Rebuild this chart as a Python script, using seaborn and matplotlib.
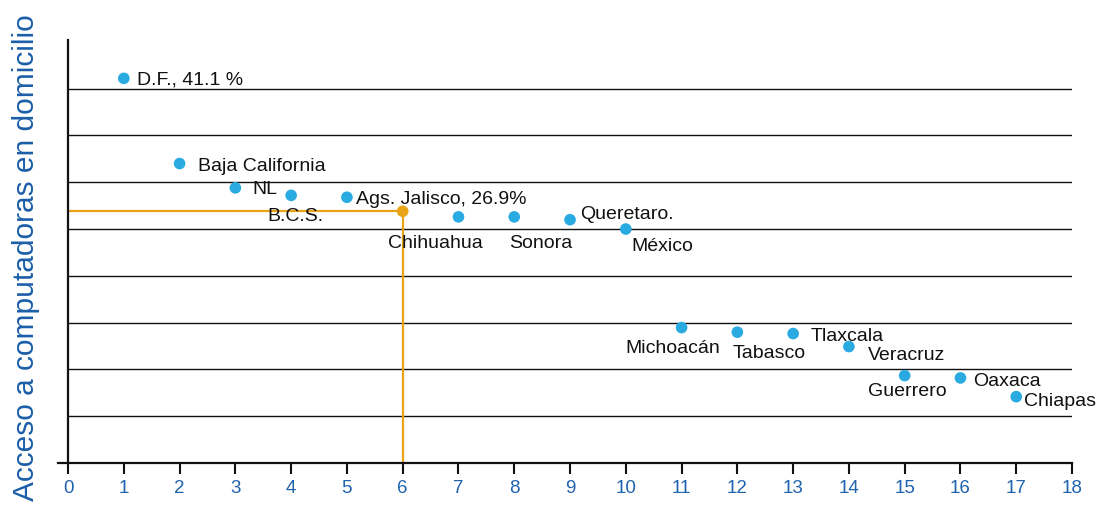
import matplotlib
matplotlib.use("Agg")
import matplotlib.pyplot as plt
import seaborn as sns
import pandas as pd

# ---- data ----
estados = ["D.F., 41.1 %", "Baja California", "NL", "B.C.S.", "Ags. Jalisco, 26.9%",
           "Chihuahua", "Sonora", "Queretaro.", "México", "Michoacán", "Tabasco",
           "Tlaxcala", "Veracruz", "Guerrero", "Oaxaca", "Chiapas"]
rango = [1, 2, 3, 4, 5, 7, 8, 9, 10, 11, 12, 13, 14, 15, 16, 17]
acceso = [41.1, 32.0, 29.4, 28.6, 28.4, 26.3, 26.3, 26.0, 25.0,
          14.47, 13.98, 13.83, 12.44, 9.34, 9.09, 7.09]
jalisco_rango = [6]
jalisco_acceso = [26.9]
x_ticks = list(range(0, 19))
grid_levels = [5, 10, 15, 20, 25, 30, 35, 40]
ylabel = "Acceso a computadoras en domicilio"

# label offsets in pixels (dx right, dy down to baseline)
label_offsets = [(13.6, 6.6), (18, 7), (16.7, 6.3), (-23.4, 25.4), (9.4, 7),
                 (-70, 31.3), (-5, 31.3), (10, -1), (6, 22), (-55.7, 25.6),
                 (-4.4, 26), (18, 7.3), (19.3, 13.3), (-36.3, 20.3), (12.3, 8),
                 (8, 9.3)]

BLUE = "#29abe2"
ORANGE = "#e8a317"
TICKBLUE = "#1f63ad"
LABELBLUE = "#1b5ea8"

sns.set_theme(style="white")
plt.rcParams["font.family"] = ["Liberation Sans", "DejaVu Sans"]

fig = plt.figure(figsize=(10.98, 5.08), dpi=100)
ax = fig.add_axes([58 / 1098, 45 / 508, (1072 - 58) / 1098, (468 - 45) / 508])

df = pd.DataFrame({"rango": rango + jalisco_rango,
                   "acceso": acceso + jalisco_acceso,
                   "tipo": ["otro"] * len(rango) + ["jalisco"]})

# grid lines
ax.hlines(grid_levels, 0, 18, colors="#111111", linewidth=1.0, zorder=1)
# orange guide lines
ax.hlines(jalisco_acceso, 0, jalisco_rango, colors=ORANGE, linewidth=1.6, zorder=2)
ax.vlines(jalisco_rango, 0, jalisco_acceso, colors=ORANGE, linewidth=1.6, zorder=2)

sns.scatterplot(data=df, x="rango", y="acceso", hue="tipo",
                palette={"otro": BLUE, "jalisco": ORANGE},
                s=70, linewidth=0, legend=False, ax=ax, zorder=3, clip_on=False)

for name, xv, yv, (dx, dy) in zip(estados, rango, acceso, label_offsets):
    ax.annotate(name, (xv, yv), xytext=(dx * 0.72, -dy * 0.72),
                textcoords="offset points", ha="left", va="baseline",
                fontsize=14, color="#111111", annotation_clip=False, zorder=4)

ax.set_xlim(-0.18, 18)
ax.set_ylim(0, 45.2)
ax.set_xticks(x_ticks)
ax.set_xticklabels([str(t) for t in x_ticks])
ax.set_yticks([])
ax.set_xlabel("")
ax.set_ylabel("")
ax.tick_params(axis="x", which="both", bottom=True, length=8, width=1.5,
               color="#111111", labelsize=13.5, labelcolor=TICKBLUE, pad=4.5,
               direction="out")

for side in ["top", "right"]:
    ax.spines[side].set_visible(False)
ax.spines["left"].set_position(("data", 0))
for side in ["left", "bottom"]:
    ax.spines[side].set_color("#111111")
    ax.spines[side].set_linewidth(1.6)
ax.set_facecolor("white")

fig.text(12 / 1098, 1 - 14 / 508, ylabel, rotation=90, ha="left", va="top",
         fontsize=21.5, color=LABELBLUE)

fig.savefig("out.png", dpi=100, facecolor="white")
